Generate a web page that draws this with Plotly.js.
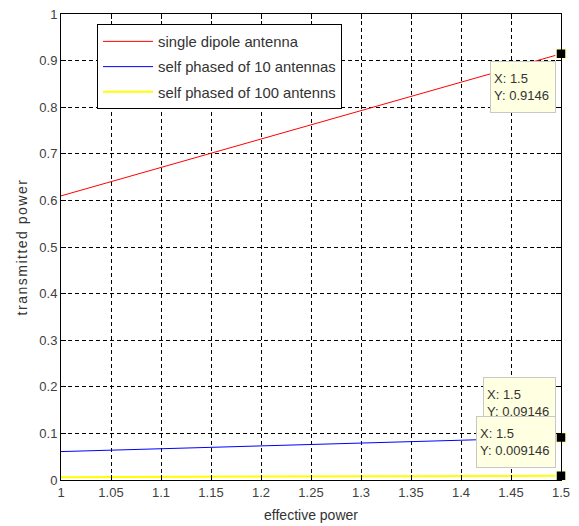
<!DOCTYPE html>
<html>
<head>
<meta charset="utf-8">
<script src="https://cdn.plot.ly/plotly-3.0.1.min.js"></script>
<style>
  html, body { margin: 0; padding: 0; background: #ffffff; }
  #chart { width: 579px; height: 526px; }
  .ytitle { letter-spacing: 1.5px; }
</style>
</head>
<body>
<div id="chart"></div>
<script>
// effective power (x)
const effectivePower = [1, 1.05, 1.1, 1.15, 1.2, 1.25, 1.3, 1.35, 1.4, 1.45, 1.5];
// transmitted power series
const singleDipole = [0.6097, 0.6402, 0.6707, 0.7012, 0.7317, 0.7621, 0.7926, 0.8231, 0.8536, 0.8841, 0.9146];
const selfPhased10 = [0.06097, 0.06402, 0.06707, 0.07012, 0.07317, 0.07621, 0.07926, 0.08231, 0.08536, 0.08841, 0.09146];
const selfPhased100 = [0.006097, 0.006402, 0.006707, 0.007012, 0.007317, 0.007621, 0.007926, 0.008231, 0.008536, 0.008841, 0.009146];
const seriesNames = ['single dipole antenna', 'self phased of 10 antennas', 'self phased of 100 antenns'];
const xTicks = [1, 1.05, 1.1, 1.15, 1.2, 1.25, 1.3, 1.35, 1.4, 1.45, 1.5];
const xTickLabels = ['1', '1.05', '1.1', '1.15', '1.2', '1.25', '1.3', '1.35', '1.4', '1.45', '1.5'];
const yTicks = [0, 0.1, 0.2, 0.3, 0.4, 0.5, 0.6, 0.7, 0.8, 0.9, 1];
const yTickLabels = ['0', '0.1', '0.2', '0.3', '0.4', '0.5', '0.6', '0.7', '0.8', '0.9', '1'];

const allSeries = [singleDipole, selfPhased10, selfPhased100];
const colors = ['#ff0000', '#0000ff', '#ffff00'];
const widths = [1, 1, 2];

const traces = allSeries.map((s, i) => ({
  x: effectivePower, y: s, type: 'scatter', mode: 'lines',
  name: seriesNames[i], legendgroup: 'g' + i,
  line: { color: colors[i], width: widths[i] }
}));

const lastX = effectivePower[effectivePower.length - 1];
const tipY = allSeries.map(s => s[s.length - 1]);

traces.push({
  x: tipY.map(() => lastX), y: tipY, type: 'scatter', mode: 'markers',
  showlegend: false, hoverinfo: 'skip', cliponaxis: false,
  marker: { symbol: 'square', size: 10, color: '#000000', line: { color: '#ffffd0', width: 1.5 } }
});

const tipShiftY = [-7, 60, 60];
const tipWidths = [58, 65, 72];
const annotations = tipY.map((v, i) => ({
  x: lastX, y: v, xref: 'x', yref: 'y',
  text: 'X: ' + lastX + '<br>Y: ' + v,
  showarrow: false, xanchor: 'right', yanchor: 'top',
  xshift: -5, yshift: tipShiftY[i],
  align: 'left', width: tipWidths[i], height: 44,
  bgcolor: '#ffffe1', bordercolor: '#c8c8c8', borderwidth: 1, borderpad: 3,
  font: { family: 'Liberation Sans, Arial, sans-serif', size: 13, color: '#333333' }
}));

const axisCommon = {
  showline: true, linecolor: '#000000', linewidth: 1, mirror: 'allticks',
  ticks: 'inside', ticklen: 5, tickcolor: '#000000', tickwidth: 1,
  showgrid: true, gridcolor: '#000000', gridwidth: 1, griddash: '4px,3px',
  zeroline: false,
  tickfont: { family: 'Liberation Sans, Arial, sans-serif', size: 13, color: '#404040' }
};

const layout = {
  width: 579, height: 526,
  margin: { l: 61, r: 18, t: 14, b: 46 },
  paper_bgcolor: '#ffffff', plot_bgcolor: '#ffffff',
  showlegend: true,
  xaxis: Object.assign({}, axisCommon, {
    range: [1, 1.5], tickmode: 'array', tickvals: xTicks, ticktext: xTickLabels,
    title: { text: 'effective power', standoff: 11,
      font: { family: 'Liberation Sans, Arial, sans-serif', size: 14, color: '#333333' } }
  }),
  yaxis: Object.assign({}, axisCommon, {
    range: [0, 1], tickmode: 'array', tickvals: yTicks, ticktext: yTickLabels,
    title: { text: 'transmitted power', standoff: 8,
      font: { family: 'Liberation Sans, Arial, sans-serif', size: 14, color: '#333333' } }
  }),
  legend: {
    x: 0.072, y: 0.978, xanchor: 'left', yanchor: 'top',
    bgcolor: '#ffffff', bordercolor: '#000000', borderwidth: 1,
    tracegroupgap: 3, itemwidth: 50,
    font: { family: 'Liberation Sans, Arial, sans-serif', size: 14.8, color: '#333333' }
  },
  annotations: annotations
};

Plotly.newPlot('chart', traces, layout, { displayModeBar: false, staticPlot: true });
</script>
</body>
</html>
